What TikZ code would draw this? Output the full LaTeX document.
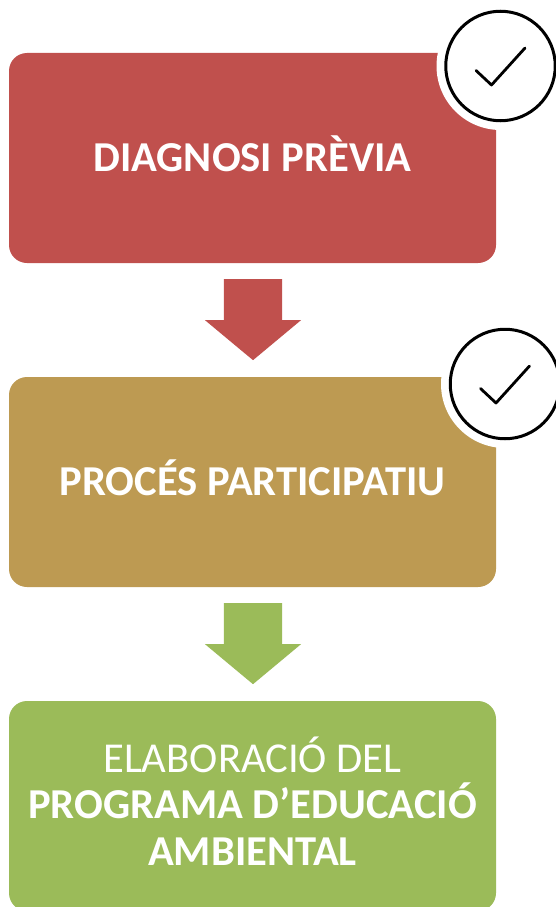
\documentclass[tikz,border=0pt]{standalone}
\usepackage{fontspec}
\setmainfont{Carlito}
\usetikzlibrary{shapes.arrows}
\definecolor{redbox}{HTML}{C0504D}
\definecolor{tanbox}{HTML}{BD9A52}
\definecolor{greenbox}{HTML}{9BBB59}
\tikzset{
	stagebox/.style={fill=#1,rounded corners=18pt,minimum width=487pt,minimum height=210pt,inner sep=0pt},
	stagetext/.style={text=white,align=center,font=\fontsize{42.6}{46.5}\selectfont,inner sep=0pt},
	downarrow/.style={single arrow,fill=#1,rotate=-90,minimum height=81pt,minimum width=96pt,single arrow head extend=19pt,single arrow tip angle=100.4,inner sep=0pt},
	halo/.style={circle,fill=white,minimum size=128pt,inner sep=0pt},
	tickring/.style={circle,draw=black,line width=3pt,fill=white,minimum size=109.5pt,inner sep=0pt}
}
\newcommand{\tick}[3]{
	\node[halo] (halo#1) at (#2,#3) {};
	\node[tickring] (ring#1) at (#2,#3) {};
	\draw[line width=2.8pt,line cap=round,line join=round] (#2-24.5,#3+4.5) -- (#2-9,#3+19) -- (#2+24.5,#3-18);
}

\begin{document}
\begin{tikzpicture}[x=1pt,y=-1pt]
	\useasboundingbox (0,0) rectangle (556,907);
	\node[stagebox=redbox] (diagnosi) at (252.5,158) {};
	\node[stagebox=tanbox] (proces) at (252.5,482) {};
	\node[stagebox=greenbox] (programa) at (252.5,806) {};
	\node[stagetext] (diagnositext) at (252.5,154) {\textbf{DIAGNOSI PRÈVIA}};
	\node[stagetext] (procestext) at (252.5,478) {\textbf{PROCÉS PARTICIPATIU}};
	\node[stagetext] (programatext) at (252.5,801) {ELABORACIÓ DEL\\\textbf{PROGRAMA D’EDUCACIÓ}\\\textbf{AMBIENTAL}};
	\node[downarrow=redbox] (arrowa) at (253,307.5) {\rule{0pt}{58pt}};
	\node[downarrow=greenbox] (arrowb) at (253,631.5) {\rule{0pt}{58pt}};
	\tick{a}{500.5}{66};
	\tick{b}{505}{384};
\end{tikzpicture}
\end{document}
